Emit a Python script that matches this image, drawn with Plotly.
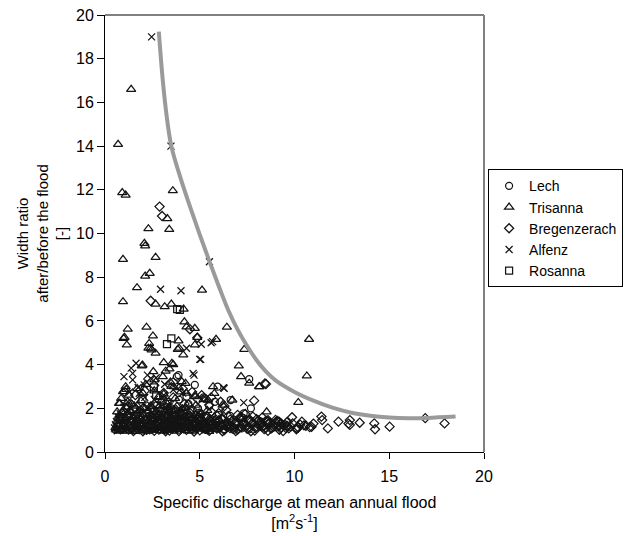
import plotly.graph_objects as go

# ---------------- data ----------------
lech_x = [7.61, 3.88, 3.79, 4.74, 5.94, 6.63, 7.70, 7.32, 5.25, 4.91, 4.30, 2.75, 3.62, 3.36, 1.98,
          1.8, 2.3, 2.8, 3.2, 3.7, 4.1, 4.6, 5.0, 5.5, 6.0, 6.4, 6.9, 7.3, 7.8, 8.2,
          2.5, 3.0, 3.5, 4.0, 4.5, 5.0, 5.5, 6.0, 6.6,
          2.0, 2.6, 3.1, 3.6, 4.2, 4.8, 5.3, 5.8, 6.3, 6.8, 7.2, 7.6,
          3.3, 3.9, 4.4, 5.2, 5.8]
lech_y = [3.33, 3.52, 3.45, 3.07, 2.99, 2.38, 2.00, 1.77, 2.46, 2.00, 2.53, 2.15, 1.92, 1.69, 1.77,
          1.30, 1.15, 1.40, 1.25, 1.50, 1.20, 1.35, 1.60, 1.28, 1.45, 1.22, 1.38, 1.55, 1.30, 1.40,
          1.70, 1.85, 2.00, 1.75, 1.90, 1.80, 2.10, 1.70, 1.65,
          1.05, 1.08, 1.02, 1.10, 1.04, 1.07, 1.03, 1.09, 1.05, 1.02, 1.08, 1.04,
          2.30, 2.40, 2.20, 2.50, 2.30]

tris_x = [1.38, 0.69, 0.91, 1.09, 3.58, 3.29, 2.29, 3.39, 2.08, 2.12, 0.95, 2.67, 2.12, 2.36, 1.69,
          5.12, 0.95, 2.67, 3.15, 3.50, 4.15, 4.19, 4.30, 4.74, 1.20, 2.19, 6.43, 0.98, 1.15, 2.53,
          5.86, 2.29, 2.46, 2.67, 3.88, 3.84, 4.13, 7.35, 7.06, 7.18, 7.61, 8.13, 5.70, 5.77, 10.20,
          10.77, 10.65, 1.09, 0.74, 0.64, 1.98, 3.20, 3.40, 3.60, 1.03, 2.33, 2.41, 3.91, 4.87, 4.74,
          3.10, 3.53, 1.94, 2.55, 8.15, 1.12, 0.95, 0.78, 1.20, 3.62, 4.05, 4.25, 6.20, 6.72, 8.53,
          5.43, 4.74,
          0.6, 0.9, 1.2, 1.5, 1.8, 2.1, 2.5, 2.8, 3.2, 3.6, 4.0, 4.4, 4.9, 5.3, 5.8,
          0.7, 1.0, 1.3, 1.6, 2.0, 2.3, 2.7, 3.1, 3.5, 3.9, 4.3, 4.7, 5.2, 5.6, 6.2,
          0.8, 1.1, 1.4, 1.8, 2.2, 2.6, 3.0, 3.4, 3.8, 4.2, 4.6, 5.0, 5.5, 6.0,
          0.9, 1.3, 1.7, 2.1, 2.5, 2.9, 3.3, 3.7, 4.1, 4.5, 5.0, 5.4,
          1.4, 1.9, 2.4, 2.8, 3.2, 3.7, 4.4, 4.8,
          2.0, 2.6, 3.1, 3.5, 4.0,
          0.55, 0.85, 1.15, 1.45, 1.75, 2.05, 2.4, 2.65, 3.0, 3.35, 3.75, 4.15, 4.55, 5.0, 5.45, 5.95, 6.5,
          0.65, 1.0, 1.35, 1.65, 1.95, 2.35, 2.75, 3.15, 3.55, 3.95, 4.35, 4.8, 5.25, 5.7,
          0.75, 1.2, 1.6, 2.0, 2.45, 2.85, 3.25, 3.65, 4.05, 4.5, 4.95,
          1.1, 1.55, 2.0, 2.45, 2.9, 3.35, 3.8, 4.25,
          0.85, 1.25, 1.7, 2.15, 2.6, 3.05, 3.45, 3.9, 4.3, 4.75, 5.2,
          0.7, 1.1, 1.6, 2.3, 3.0, 3.8, 4.6, 5.5,
          0.6, 0.95, 1.3, 1.65, 2.0, 2.4, 2.8, 3.2, 3.6, 4.0, 4.45, 4.9, 5.35, 5.9,
          0.7, 1.05, 1.45, 1.85, 2.25, 2.65, 3.05, 3.45, 3.85, 4.3, 4.75,
          0.9, 1.35, 1.8, 2.25, 2.7, 3.15, 3.6, 4.05]
tris_y = [16.6, 14.08, 11.87, 11.76, 11.96, 10.68, 10.22, 10.19, 9.55, 9.43, 8.82, 8.91, 8.05, 8.18, 7.52,
          7.41, 6.88, 6.77, 6.65, 6.77, 6.54, 5.96, 5.73, 5.66, 5.62, 5.71, 5.71, 5.20, 4.90, 5.31,
          5.16, 4.75, 4.67, 4.52, 5.09, 4.70, 4.44, 4.70, 3.94, 3.45, 3.15, 2.99, 2.99, 2.68, 2.27,
          5.16, 3.48, 2.99, 2.23, 1.84, 3.98, 3.70, 3.80, 4.00, 5.25, 4.97, 4.75, 4.75, 5.25, 4.90,
          4.09, 4.06, 3.94, 3.68, 2.99, 2.87, 2.76, 2.23, 2.30, 2.99, 3.22, 3.14, 2.15, 2.38, 1.84,
          2.38, 2.53,
          1.00, 1.03, 0.97, 1.05, 1.00, 1.08, 1.02, 0.99, 1.06, 1.01, 1.04, 0.98, 1.07, 1.02, 1.05,
          1.25, 1.30, 1.20, 1.35, 1.22, 1.28, 1.33, 1.24, 1.30, 1.20, 1.36, 1.27, 1.23, 1.31, 1.26,
          1.50, 1.58, 1.45, 1.62, 1.52, 1.47, 1.60, 1.55, 1.43, 1.57, 1.50, 1.46, 1.54, 1.48,
          1.80, 1.90, 1.75, 2.00, 1.85, 1.95, 1.78, 1.88, 1.98, 1.82, 1.76, 1.90,
          2.20, 2.35, 2.10, 2.50, 2.30, 2.45, 2.20, 2.15,
          2.70, 2.80, 2.65, 3.00, 2.75,
          1.12, 1.15, 1.10, 1.18, 1.13, 1.16, 1.11, 1.19, 1.14, 1.12, 1.17, 1.10, 1.15, 1.13, 1.18, 1.11, 1.14,
          1.40, 1.42, 1.38, 1.44, 1.40, 1.37, 1.43, 1.39, 1.45, 1.41, 1.38, 1.42, 1.40, 1.36,
          1.68, 1.70, 1.66, 1.72, 1.67, 1.71, 1.69, 1.65, 1.70, 1.68, 1.64,
          2.05, 2.10, 2.02, 2.08, 2.12, 2.04, 2.10, 2.03,
          2.45, 2.60, 2.90, 3.10, 3.30, 3.45, 3.20, 2.95, 2.70, 2.60, 2.40,
          0.95, 0.96, 0.94, 0.95, 0.97, 0.95, 0.96, 0.94,
          1.07, 1.20, 1.08, 1.21, 1.07, 1.20, 1.08, 1.21, 1.07, 1.20, 1.08, 1.21, 1.07, 1.19,
          1.55, 1.52, 1.58, 1.54, 1.60, 1.53, 1.57, 1.51, 1.58, 1.55, 1.52,
          1.85, 1.82, 1.90, 1.87, 1.80, 1.92, 1.86, 1.83]

breg_x = [2.88, 3.01, 2.41, 4.48, 4.87, 8.49, 7.87, 1.03, 9.13, 9.87, 10.39, 11.42, 11.46, 11.76, 12.32,
          12.92, 12.92, 12.85, 13.44, 14.21, 14.25, 15.02, 17.92, 16.90, 10.6, 10.9, 10.3, 11.0, 10.1,
          9.6, 9.3, 8.9, 8.6, 8.3, 9.04, 9.65, 8.44,
          2.2, 2.9, 3.4, 3.8, 4.3, 4.6, 5.0, 5.4, 5.9, 6.3, 6.6, 7.0, 7.5, 7.9, 8.4, 8.8, 9.2, 9.7, 10.1,
          1.9, 2.6, 3.2, 3.6, 4.1, 4.5, 4.8, 5.2, 5.7, 6.1, 6.5, 6.9, 7.3, 7.8, 8.2, 8.6, 9.0, 9.5, 9.9, 10.5,
          2.4, 3.0, 3.5, 4.0, 4.4, 4.9, 5.3, 5.8, 6.2, 6.7, 7.1, 7.6, 8.0, 8.5, 9.0,
          2.7, 3.3, 3.9, 4.6, 5.1, 5.6, 6.0, 6.4, 7.0, 7.4,
          3.0, 3.6, 4.2, 4.9, 5.5, 6.3,
          2.5, 3.1, 3.6, 4.0, 4.5, 4.9, 5.3, 5.7, 6.0, 6.4, 6.8, 7.2, 7.6, 8.0, 8.5, 8.9, 9.3, 9.8, 10.2, 10.8,
          2.8, 3.3, 3.8, 4.2, 4.7, 5.1, 5.6, 6.0, 6.4, 6.9, 7.3, 7.7, 8.2, 8.7, 9.2, 9.6,
          3.1, 3.7, 4.3, 4.8, 5.4, 5.9, 6.5, 7.2, 7.8, 8.3,
          1.6, 2.1, 2.6, 3.1, 3.6, 4.1, 4.6, 5.1, 5.6, 6.1,
          1.5, 2.0, 2.6, 3.2, 3.9, 4.7, 5.5, 6.2, 6.9, 7.7, 8.6, 9.4,
          2.35, 2.75, 3.25, 3.7, 4.15, 4.65, 5.15, 5.6, 6.05, 6.55, 7.05, 7.45, 7.95, 8.35, 8.75, 9.15, 9.55,
          2.55, 3.05, 3.55, 4.05, 4.55, 5.05, 5.55, 6.15, 6.6, 7.15, 7.65, 8.1, 8.6, 9.1]
breg_y = [11.23, 10.80, 6.92, 5.62, 5.23, 3.11, 2.35, 2.75, 1.39, 1.59, 1.39, 1.62, 1.46, 1.08, 1.39,
          1.46, 1.24, 1.30, 1.34, 1.31, 1.04, 1.16, 1.31, 1.55, 1.20, 1.15, 1.25, 1.30, 1.10,
          1.20, 1.30, 1.25, 1.40, 1.15, 1.16, 1.16, 3.14,
          1.02, 1.05, 0.98, 1.08, 1.01, 1.06, 0.99, 1.04, 1.07, 1.00, 1.09, 1.03, 1.06, 0.98, 1.05, 1.10, 1.02, 1.08, 1.04,
          1.25, 1.30, 1.22, 1.33, 1.27, 1.20, 1.35, 1.24, 1.30, 1.21, 1.32, 1.26, 1.23, 1.34, 1.20, 1.29, 1.36, 1.24, 1.31, 1.22,
          1.50, 1.45, 1.58, 1.42, 1.55, 1.48, 1.60, 1.44, 1.52, 1.41, 1.57, 1.46, 1.50, 1.43, 1.47,
          1.80, 1.90, 1.75, 1.95, 1.72, 1.85, 1.78, 1.92, 1.70, 1.74,
          2.30, 2.50, 2.20, 2.40, 2.15, 2.10,
          1.14, 1.12, 1.16, 1.13, 1.15, 1.11, 1.17, 1.12, 1.14, 1.16, 1.12, 1.15, 1.13, 1.17, 1.11, 1.15, 1.13, 1.16, 1.12, 1.14,
          1.38, 1.36, 1.40, 1.37, 1.39, 1.35, 1.40, 1.38, 1.36, 1.39, 1.37, 1.40, 1.35, 1.33, 1.38, 1.36,
          1.65, 1.68, 1.63, 1.66, 1.62, 1.67, 1.64, 1.60, 1.62, 1.58,
          2.60, 2.80, 3.05, 2.70, 3.20, 2.90, 2.75, 2.60, 2.50, 2.30,
          0.96, 0.95, 0.97, 0.95, 0.96, 0.94, 0.97, 0.95, 0.96, 0.95, 0.97, 0.96,
          1.08, 1.20, 1.09, 1.21, 1.10, 1.22, 1.08, 1.19, 1.10, 1.20, 1.08, 1.21, 1.09, 1.20, 1.07, 1.19, 1.09,
          1.48, 1.52, 1.47, 1.53, 1.49, 1.51, 1.46, 1.53, 1.48, 1.50, 1.47, 1.44, 1.46, 1.42]

alf_x = [2.46, 3.48, 2.93, 4.01, 5.51, 5.08, 5.60, 4.30, 5.05, 4.70, 6.25, 7.32, 1.38, 1.00, 1.64,
         1.46, 2.24, 2.41, 5.68, 5.00, 4.65, 6.29, 1.81, 2.07, 1.46,
         0.5, 0.75, 1.0, 1.35, 1.7, 2.0, 2.4, 2.9, 3.3, 3.8,
         0.6, 0.95, 1.25, 1.55, 1.9, 2.25, 2.7, 3.2, 3.7, 4.3,
         0.8, 1.15, 1.5, 1.85, 2.3, 2.75, 3.3,
         1.2, 1.6, 2.1, 2.6, 3.1,
         0.55, 0.85, 1.1, 1.45, 1.8, 2.15, 2.55, 3.0, 3.5, 4.0, 4.6, 5.2,
         0.7, 1.05, 1.4, 1.75, 2.1, 2.5, 2.95, 3.45, 4.0,
         1.0, 1.4, 1.9, 2.4, 2.8, 3.4, 3.9,
         1.3, 1.75, 2.2, 2.7, 3.15, 3.6, 4.1,
         0.65, 1.0, 1.4, 1.8, 2.2, 2.6, 3.0, 3.4]
alf_y = [19.0, 14.0, 7.45, 7.38, 8.71, 4.93, 5.00, 4.75, 4.24, 3.52, 2.94, 2.26, 3.84, 3.45, 4.06,
         3.60, 3.52, 3.37, 5.05, 4.24, 3.60, 2.91, 2.69, 3.07, 3.30,
         1.10, 1.00, 1.15, 1.05, 1.12, 0.98, 1.08, 1.14, 1.02, 1.10,
         1.40, 1.35, 1.50, 1.42, 1.38, 1.55, 1.45, 1.40, 1.52, 1.36,
         1.75, 1.90, 1.70, 1.85, 2.00, 1.78, 1.92,
         2.30, 2.20, 2.50, 2.40, 2.60,
         1.25, 1.20, 1.28, 1.22, 1.30, 1.24, 1.27, 1.21, 1.29, 1.23, 1.26, 1.20,
         1.60, 1.58, 1.62, 1.56, 1.64, 1.60, 1.57, 1.63, 1.59,
         2.05, 2.00, 2.10, 2.15, 2.20, 2.10, 2.00,
         2.75, 2.95, 3.20, 3.40, 3.10, 2.85, 2.70,
         0.97, 1.02, 0.96, 1.00, 0.97, 1.01, 0.96, 0.99]

ros_x = [3.81, 3.95, 3.27, 3.50, 2.58, 1.98, 2.70, 3.30, 1.50, 4.20, 2.20, 3.00, 5.00, 1.20]
ros_y = [6.54, 6.50, 4.94, 5.20, 2.96, 2.41, 2.60, 2.20, 1.90, 1.80, 1.50, 1.30, 1.60, 1.20]

curve_x = [2.84, 3.05, 3.25, 3.5, 4.0, 4.5, 5.0, 5.5, 6.0, 6.5, 7.0, 7.5, 8.0, 8.5, 9.0,
           10.0, 11.0, 12.0, 13.0, 14.0, 15.0, 16.0, 17.0, 18.5]
curve_y = [19.24, 17.0, 15.4, 14.0, 12.5, 11.2, 9.95, 8.75, 7.6, 6.5, 5.6, 4.85, 4.2, 3.68, 3.28,
           2.75, 2.35, 2.03, 1.8, 1.66, 1.58, 1.55, 1.56, 1.62]

x_ticks = [0, 5, 10, 15, 20]
y_ticks = [0, 2, 4, 6, 8, 10, 12, 14, 16, 18, 20]

# ---------------- figure ----------------
FONT = "Arial, Liberation Sans, sans-serif"
MC = "#141414"

def series(name, xs, ys, symbol, size):
    return go.Scatter(
        x=xs, y=ys, mode="markers", name=name,
        marker=dict(symbol=symbol, size=size, color=MC,
                    line=dict(color=MC, width=1.25)),
    )

fig = go.Figure()
fig.add_trace(series("Lech", lech_x, lech_y, "circle-open", 7))
fig.add_trace(series("Trisanna", tris_x, tris_y, "triangle-up-open", 8))
fig.add_trace(series("Bregenzerach", breg_x, breg_y, "diamond-open", 7))
fig.add_trace(series("Alfenz", alf_x, alf_y, "x-thin-open", 7))
fig.add_trace(series("Rosanna", ros_x, ros_y, "square-open", 7))
fig.add_trace(go.Scatter(
    x=curve_x, y=curve_y, mode="lines", showlegend=False, hoverinfo="skip",
    line=dict(color="#9a9a9a", width=4, shape="spline", smoothing=1.0),
))

fig.update_layout(
    width=635, height=536,
    margin=dict(l=105, r=143, t=15, b=84),
    paper_bgcolor="white", plot_bgcolor="white",
    font=dict(family=FONT, size=16, color="black"),
    legend=dict(
        x=1.367, xanchor="right", y=0.647, yanchor="top",
        bordercolor="black", borderwidth=1, bgcolor="white",
        font=dict(family=FONT, size=14, color="black"),
        itemwidth=30, tracegroupgap=0,
    ),
    xaxis=dict(
        range=[0, 20], tickvals=x_ticks, ticktext=[str(v) for v in x_ticks],
        ticks="outside", ticklen=6, tickcolor="black",
        showline=True, linecolor="black", linewidth=1,
        showgrid=False, zeroline=False, automargin=False,
        tickfont=dict(size=16), ticklabelstandoff=4,
        title=dict(text="Specific discharge at mean annual flood<br>[m<sup>2</sup>s<sup>-1</sup>]",
                   font=dict(size=16), standoff=12),
    ),
    yaxis=dict(
        range=[0, 20], tickvals=y_ticks, ticktext=[str(v) for v in y_ticks],
        ticks="outside", ticklen=7, tickcolor="black",
        showline=True, linecolor="black", linewidth=1,
        showgrid=False, zeroline=False, automargin=False,
        tickfont=dict(size=16),
        title=dict(text="Width ratio<br>after/before the flood<br>[-]",
                   font=dict(size=15), standoff=4),
    ),
)

# plot-area frame: black top edge, grey right edge
fig.add_shape(type="line", xref="paper", yref="paper", x0=0, x1=1, y0=1, y1=1,
              line=dict(color="black", width=1))
fig.add_shape(type="line", xref="paper", yref="paper", x0=1, x1=1, y0=0, y1=1,
              line=dict(color="#808080", width=2))

fig.write_html("out.html")
